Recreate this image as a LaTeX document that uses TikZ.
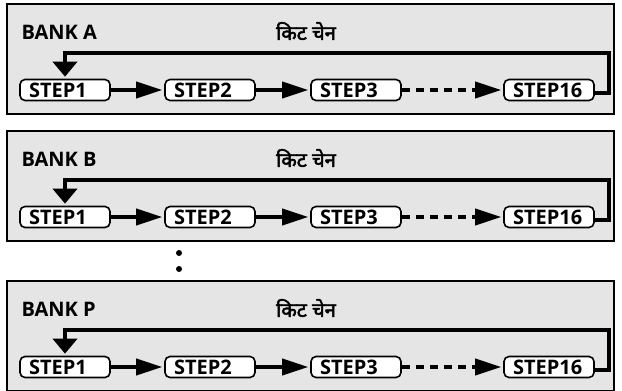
\documentclass[tikz,border=0pt]{standalone}
\usepackage{fontspec}
\setmainfont{Open Sans}
\newfontfamily\devfont[Script=Devanagari, FakeBold=2.5]{Noto Sans}
\usetikzlibrary{positioning, arrows.meta}

\begin{document}
\begin{tikzpicture}[x=1pt, y=-1pt,
			bank/.style={draw, line width=1.8pt, fill=gray!20, anchor=north west, minimum width=607pt, minimum height=110pt, inner sep=0pt},
			bankname/.style={anchor=west, font=\bfseries\fontsize{20}{20}\selectfont},
			chainname/.style={font=\devfont\fontsize{20}{20}\selectfont},
			stepbox/.style={draw, fill=white, line width=1.6pt, rounded corners=5pt, minimum height=21pt, text width=72pt, inner xsep=9pt, inner ysep=0pt, align=left, font=\bfseries\fontsize{20}{20}\selectfont},
			link/.style={line width=3.5pt, -{Triangle[length=26pt, width=16pt]}, shorten >=2pt},
			back/.style={line width=4pt, -{Triangle[length=15pt, width=24pt]}, shorten >=2pt},
			dot/.style={circle, fill=black, inner sep=0pt, minimum size=6pt},
			]
			\useasboundingbox (0,0) rectangle (622,391);
			
			%% ── Bank A ─────────────────────────────────────────────
			\node[bank] (bankA) at (6,3) {};
			\node[bankname] (nameA) at (18,32) {BANK A};
			\node[chainname] (chainA) at (306,31) {किट चेन};
			\node[stepbox] (a1)  at (65,90)  {STEP1};
			\node[stepbox] (a2)  at (210,90) {STEP2};
			\node[stepbox] (a3)  at (356,90) {STEP3};
			\node[stepbox] (a16) at (549,90) {STEP16};
			\coordinate (loopA) at (609,53);
			
			\draw[link] (a1) -- (a2);
			\draw[link] (a2) -- (a3);
			\draw[link, dash pattern=on 8pt off 6pt] (a3) -- (a16);
			\draw[back] ([yshift=-3pt]a16.east) -| (loopA) -| (a1.north);
			
			%% ── Bank B ─────────────────────────────────────────────
			\node[bank] (bankB) at (6,130) {};
			\node[bankname] (nameB) at (18,159) {BANK B};
			\node[chainname] (chainB) at (306,158) {किट चेन};
			\node[stepbox] (b1)  at (65,217)  {STEP1};
			\node[stepbox] (b2)  at (210,217) {STEP2};
			\node[stepbox] (b3)  at (356,217) {STEP3};
			\node[stepbox] (b16) at (549,217) {STEP16};
			\coordinate (loopB) at (609,180);
			
			\draw[link] (b1) -- (b2);
			\draw[link] (b2) -- (b3);
			\draw[link, dash pattern=on 8pt off 6pt] (b3) -- (b16);
			\draw[back] ([yshift=-3pt]b16.east) -| (loopB) -| (b1.north);
			
			%% ── dots between the banks ─────────────────────────────
			\node[dot] (dot1) at (179,253) {};
			\node[dot] (dot2) at (179,269) {};
			
			%% ── Bank P ─────────────────────────────────────────────
			\node[bank] (bankP) at (6,280) {};
			\node[bankname] (nameP) at (18,309) {BANK P};
			\node[chainname] (chainP) at (306,308) {किट चेन};
			\node[stepbox] (p1)  at (65,367)  {STEP1};
			\node[stepbox] (p2)  at (210,367) {STEP2};
			\node[stepbox] (p3)  at (356,367) {STEP3};
			\node[stepbox] (p16) at (549,367) {STEP16};
			\coordinate (loopP) at (609,330);
			
			\draw[link] (p1) -- (p2);
			\draw[link] (p2) -- (p3);
			\draw[link, dash pattern=on 8pt off 6pt] (p3) -- (p16);
			\draw[back] ([yshift=-3pt]p16.east) -| (loopP) -| (p1.north);
			
\end{tikzpicture}
\end{document}
